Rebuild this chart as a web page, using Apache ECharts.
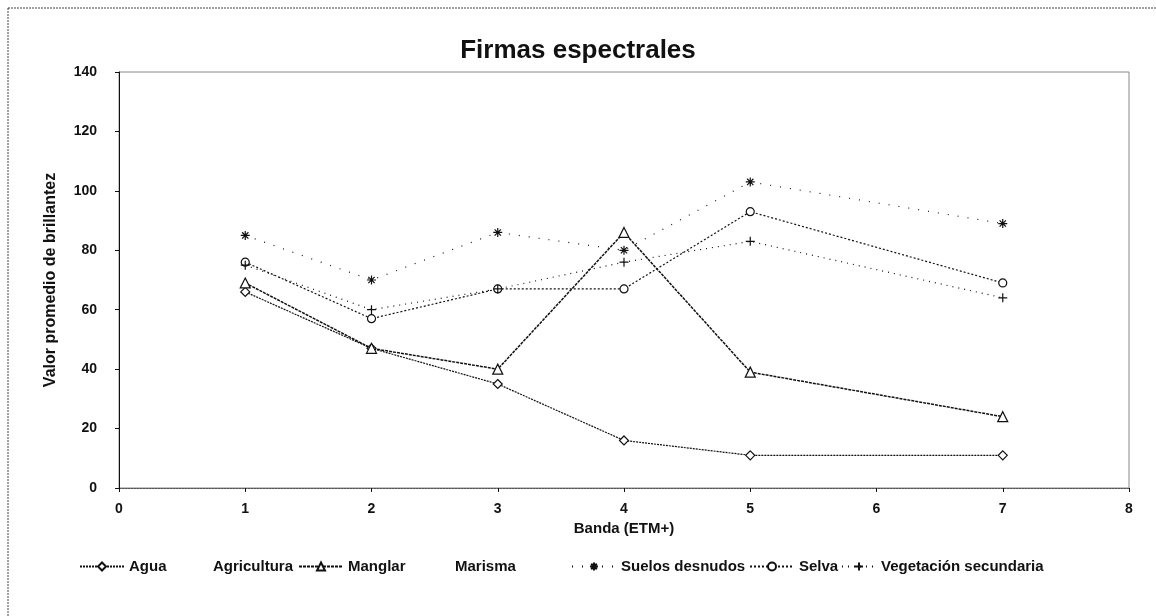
<!DOCTYPE html>
<html>
<head>
<meta charset="utf-8">
<title>Firmas espectrales</title>
<script src="https://cdn.jsdelivr.net/npm/echarts@6/dist/echarts.min.js"></script>
<style>
  html, body { margin: 0; padding: 0; background: #fff; }
  #chart { width: 1156px; height: 616px; }
</style>
</head>
<body>
<div id="chart"></div>
<script>
// Landsat ETM+ bands (band 6, thermal, is not used)
const bandas = [1, 2, 3, 4, 5, 7];

// Mean brightness per cover class
const agua = [66, 47, 35, 16, 11, 11];
const agricultura = [];
const manglar = [69, 47, 40, 86, 39, 24];
const marisma = [];
const suelosDesnudos = [85, 70, 86, 80, 103, 89];
const selva = [76, 57, 67, 67, 93, 69];
const vegetacionSecundaria = [75, 60, 67, 76, 83, 64];

const clases = ['Agua', 'Agricultura', 'Manglar', 'Marisma', 'Suelos desnudos', 'Selva', 'Vegetación secundaria'];

const xTicks = [0, 1, 2, 3, 4, 5, 6, 7, 8];
const yTicks = [0, 20, 40, 60, 80, 100, 120, 140];

const toPairs = vals => vals.map((v, i) => [bandas[i], v]);

const FONT = '"Liberation Sans", Arial, sans-serif';
const INK = '#111';

const ASTERISK = 'path://M5,0L5,10M0,5L10,5M1.5,1.5L8.5,8.5M8.5,1.5L1.5,8.5';
const PLUS = 'path://M5,0L5,10M0,5L10,5';

function lineSeries(name, vals, dash, width, symbol, size) {
  return {
    name: name,
    type: 'line',
    data: toPairs(vals),
    symbol: symbol,
    symbolSize: size,
    color: INK,
    lineStyle: { color: INK, width: width, type: dash },
    itemStyle: { color: '#fff', borderColor: INK, borderWidth: 1.2 },
    emphasis: { disabled: true },
    animation: false,
    z: 3
  };
}

// Classes listed in the legend whose lines do not show on the plot
function hiddenSeries(name, vals) {
  return {
    name: name,
    type: 'line',
    data: toPairs(vals),
    symbol: 'none',
    color: 'rgba(0,0,0,0)',
    lineStyle: { color: 'rgba(0,0,0,0)', width: 0 },
    animation: false
  };
}

// One legend slot per class, laid out along the bottom row
const legendLeft = [74, 159, 293, 401, 566, 744, 836];
const legendIconWidth = [44, 44, 44, 44, 44, 44, 34];
const legends = clases.map((name, i) => ({
  data: [name],
  left: legendLeft[i],
  bottom: 37,
  itemWidth: legendIconWidth[i],
  itemHeight: 10,
  textStyle: { fontFamily: FONT, fontSize: 15, fontWeight: 'bold', color: INK }
}));

const chart = echarts.init(document.getElementById('chart'), null, { renderer: 'canvas' });

chart.setOption({
  backgroundColor: '#fff',
  animation: false,
  title: {
    text: 'Firmas espectrales',
    left: 'center',
    top: 33,
    textStyle: { fontFamily: FONT, fontSize: 26, fontWeight: 'bold', color: INK }
  },
  legend: legends,
  grid: {
    left: 119,
    right: 27,
    top: 72,
    bottom: 128,
    show: true,
    borderColor: '#888',
    borderWidth: 1
  },
  graphic: [{
    type: 'rect',
    shape: { x: 8, y: 8, width: 1170, height: 640 },
    style: { fill: null, stroke: '#444', lineWidth: 1, lineDash: [2, 1] },
    silent: true,
    z: -1
  }],
  xAxis: {
    type: 'value',
    min: xTicks[0],
    max: xTicks[xTicks.length - 1],
    interval: 1,
    name: 'Banda (ETM+)',
    nameLocation: 'middle',
    nameGap: 33,
    nameTextStyle: { fontFamily: FONT, fontSize: 15, fontWeight: 'bold', color: INK },
    axisLine: { show: true, lineStyle: { color: '#555', width: 1, type: [2, 1] } },
    axisTick: { show: true, length: 4, lineStyle: { color: INK } },
    splitLine: { show: false },
    axisLabel: { margin: 14, fontFamily: FONT, fontSize: 14, fontWeight: 'bold', color: INK }
  },
  yAxis: {
    type: 'value',
    min: yTicks[0],
    max: yTicks[yTicks.length - 1],
    interval: 20,
    name: 'Valor promedio de brillantez',
    nameLocation: 'middle',
    nameGap: 60,
    nameTextStyle: { fontFamily: FONT, fontSize: 16, fontWeight: 'bold', color: INK },
    axisLine: { show: true, lineStyle: { color: INK, width: 1 } },
    axisTick: { show: true, length: 4, lineStyle: { color: INK } },
    splitLine: { show: false },
    axisLabel: { margin: 22, fontFamily: FONT, fontSize: 14, fontWeight: 'bold', color: INK }
  },
  series: [
    lineSeries('Agua', agua, [2, 1], 1.2, 'diamond', 9),
    hiddenSeries('Agricultura', agricultura),
    lineSeries('Manglar', manglar, [3, 1], 1.5, 'triangle', 10),
    hiddenSeries('Marisma', marisma),
    lineSeries('Suelos desnudos', suelosDesnudos, [1, 9], 1.2, ASTERISK, 9),
    lineSeries('Selva', selva, [2, 2], 1.2, 'circle', 8),
    lineSeries('Vegetación secundaria', vegetacionSecundaria, [1, 5], 1.2, PLUS, 9)
  ]
});
</script>
</body>
</html>
